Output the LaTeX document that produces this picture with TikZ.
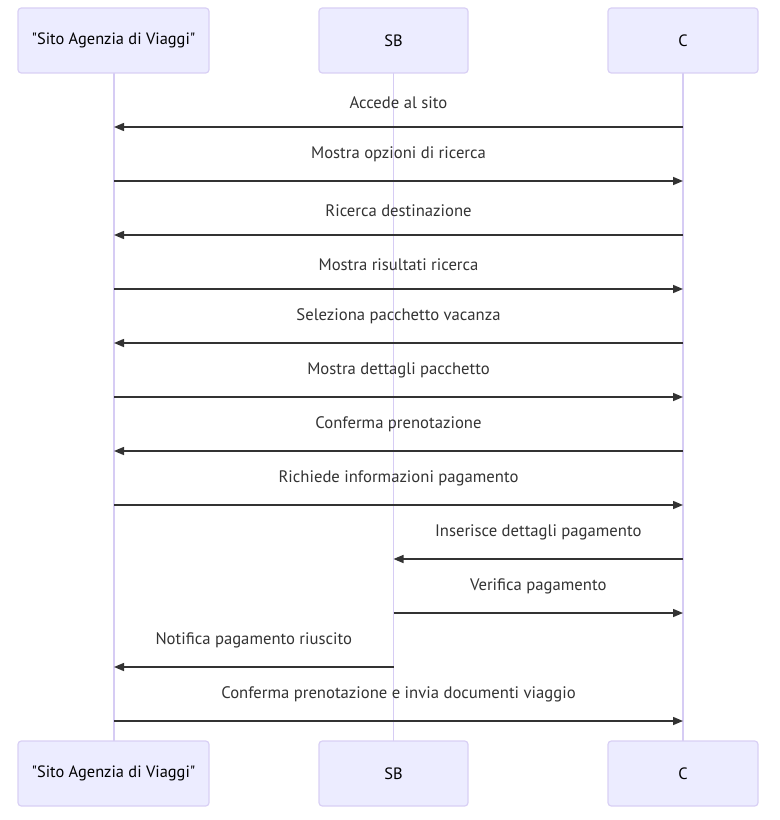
\documentclass[tikz,border=0pt]{standalone}
\usepackage{fontspec}
\setmainfont{PT Sans}
\newfontfamily\plainsans{PT Sans}
\usetikzlibrary{arrows.meta}
\definecolor{actfill}{HTML}{ECECFF}
\definecolor{actdraw}{HTML}{D9D0F5}
\definecolor{life}{HTML}{D6CCF4}
\definecolor{msg}{HTML}{333333}
\tikzset{
  x=0.75pt,y=-0.75pt,
  actor/.style={draw=actdraw,fill=actfill,line width=0.9pt,rounded corners=2.5pt,minimum width=#1*0.75pt,minimum height=65*0.75pt,inner sep=0pt,font=\plainsans\fontsize{12.3}{14}\selectfont,text=black},
  lifeline/.style={draw=life,line width=1.2pt},
  msgarrow/.style={draw=msg,line width=1.1pt,-{Triangle[length=7.5pt,width=6pt]}},
  lbl/.style={font=\fontsize{12.5}{14}\selectfont,text=msg,inner sep=0pt}
}
\begin{document}
\begin{tikzpicture}
\useasboundingbox (0,0) rectangle (780,820);
\fill[white] (0,0) rectangle (780,820);
% lifelines
\coordinate (s0) at (114,73); \coordinate (s1) at (114,741);
\coordinate (b0) at (393.5,73); \coordinate (b1) at (393.5,741);
\coordinate (c0) at (683,73); \coordinate (c1) at (683,741);
\draw[lifeline] (s0) -- (s1);
\draw[lifeline] (b0) -- (b1);
\draw[lifeline] (c0) -- (c1);
% actors
\node[actor=191] (S) at (113.5,40.5) {"Sito Agenzia di Viaggi"};
\node[actor=149] (B) at (393.5,40.5) {SB};
\node[actor=150] (C) at (683,40.5) {C};
\node[actor=191] (S2) at (113.5,773.5) {"Sito Agenzia di Viaggi"};
\node[actor=149] (B2) at (393.5,773.5) {SB};
\node[actor=150] (C2) at (683,773.5) {C};
% message anchor points
\foreach \i/\y in {1/127,2/181,3/235,4/289,5/343,6/397,7/451,8/505,9/559,10/613,11/667,12/721}{
  \coordinate (S\i) at (114,\y);
  \coordinate (B\i) at (393.5,\y);
  \coordinate (C\i) at (683,\y);
}
\draw[msgarrow] (C1) -- node[lbl,above=13.5pt] {Accede al sito} (S1);
\draw[msgarrow] (S2) -- node[lbl,above=13.5pt] {Mostra opzioni di ricerca} (C2);
\draw[msgarrow] (C3) -- node[lbl,above=13.5pt] {Ricerca destinazione} (S3);
\draw[msgarrow] (S4) -- node[lbl,above=13.5pt] {Mostra risultati ricerca} (C4);
\draw[msgarrow] (C5) -- node[lbl,above=13.5pt] {Seleziona pacchetto vacanza} (S5);
\draw[msgarrow] (S6) -- node[lbl,above=13.5pt] {Mostra dettagli pacchetto} (C6);
\draw[msgarrow] (C7) -- node[lbl,above=13.5pt] {Conferma prenotazione} (S7);
\draw[msgarrow] (S8) -- node[lbl,above=13.5pt] {Richiede informazioni pagamento} (C8);
\draw[msgarrow] (C9) -- node[lbl,above=13.5pt] {Inserisce dettagli pagamento} (B9);
\draw[msgarrow] (B10) -- node[lbl,above=13.5pt] {Verifica pagamento} (C10);
\draw[msgarrow] (B11) -- node[lbl,above=13.5pt] {Notifica pagamento riuscito} (S11);
\draw[msgarrow] (S12) -- node[lbl,above=13.5pt] {Conferma prenotazione e invia documenti viaggio} (C12);
\end{tikzpicture}
\end{document}
